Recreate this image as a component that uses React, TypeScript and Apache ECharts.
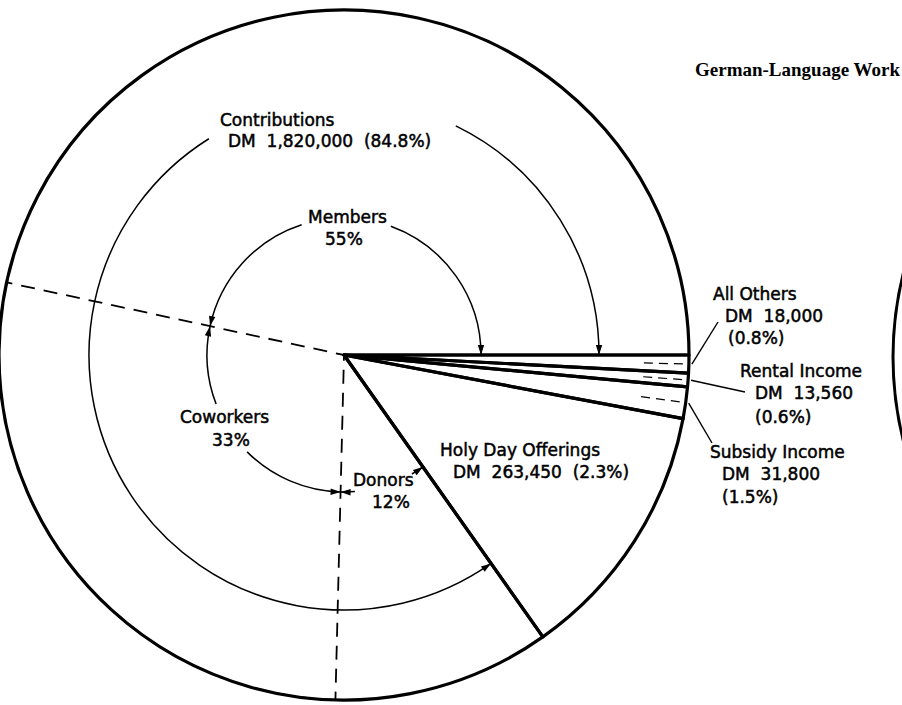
import React, { useEffect, useRef } from "react";
import * as echarts from "echarts";

// ---------------- data ----------------
const sliceNames = ["All Others", "Rental Income", "Subsidy Income", "Holy Day Offerings", "Contributions"];
const sliceValues = [18000, 13560, 31800, 263450, 1820000];
const slicePercentLabels = ["0.8%", "0.6%", "1.5%", "2.3%", "84.8%"];
const contributorNames = ["Donors", "Coworkers", "Members"];
const contributorShares = [12, 33, 55];
const chartTitle = "German-Language Work";

// ---------------- layout ----------------
const CX = 344;
const CY = 355;
const R = 345;
const FONT = '17px "DejaVu Sans", sans-serif';
const OUTER_ARC_R = 255;
const INNER_ARC_R = 137;

const fmt = (v: number) => String(v).replace(/\B(?=(\d{3})+(?!\d))/g, ",");
const rad = (d: number) => (d * Math.PI) / 180;
const pt = (r: number, deg: number): [number, number] => [CX + r * Math.cos(rad(deg)), CY + r * Math.sin(rad(deg))];

// slice angle bounds (degrees, clockwise from 3 o'clock)
const total = sliceValues.reduce((a, b) => a + b, 0);
const sliceBounds: [number, number][] = [];
{
  let acc = 0;
  sliceValues.forEach((v) => {
    const a0 = (acc / total) * 360;
    acc += v;
    sliceBounds.push([a0, (acc / total) * 360]);
  });
}
const CI = sliceNames.indexOf("Contributions");
const [cStart, cEnd] = sliceBounds[CI];
const subBounds: [number, number][] = [];
{
  let a = cStart;
  contributorShares.forEach((s) => {
    const span = ((cEnd - cStart) * s) / 100;
    subBounds.push([a, a + span]);
    a += span;
  });
}
const restValue = sliceValues.filter((_, i) => i !== CI).reduce((a, b) => a + b, 0);

// ---------------- graphic helpers ----------------
const arcEl = (r: number, a0: number, a1: number, lw = 1.5) => ({
  type: "arc",
  z: 100,
  silent: true,
  shape: { cx: CX, cy: CY, r, startAngle: rad(a0), endAngle: rad(a1), clockwise: true },
  style: { stroke: "#000", lineWidth: lw, fill: null },
});
const arrowEl = (r: number, deg: number, dir: number) => {
  const [x, y] = pt(r, deg);
  const t = rad(deg);
  const dx = dir > 0 ? -Math.sin(t) : Math.sin(t);
  const dy = dir > 0 ? Math.cos(t) : -Math.cos(t);
  const L = 10;
  const W = 3.2;
  const bx = x - L * dx;
  const by = y - L * dy;
  return {
    type: "polygon",
    z: 101,
    silent: true,
    shape: { points: [[x, y], [bx - W * dy, by + W * dx], [bx + W * dy, by - W * dx]] },
    style: { fill: "#000" },
  };
};
const textEl = (text: string, x: number, y: number, font = FONT) => ({
  type: "text",
  z: 100,
  silent: true,
  x,
  y,
  style: {
    text,
    x: 0,
    y: 0,
    font,
    fill: "#000",
    stroke: "#000",
    lineWidth: 0.5,
    textAlign: "left",
    textVerticalAlign: "middle",
    align: "left",
    verticalAlign: "middle",
  },
});
const lineEl = (p1: [number, number], p2: [number, number], lw = 1.4, dash?: number[]) => ({
  type: "line",
  z: 100,
  silent: true,
  shape: { x1: p1[0], y1: p1[1], x2: p2[0], y2: p2[1] },
  style: { stroke: "#000", lineWidth: lw, lineDash: dash },
});

// label positions (left x, middle y) per slice line
const sliceLabelPos: [number, number][][] = [
  [[713, 294], [725, 316], [728, 338]],
  [[740, 371], [755, 393], [755, 417]],
  [[710, 452], [722, 474], [722, 497]],
  [[440, 450], [453, 472]],
  [[220, 120], [228, 141]],
];
const leaderTargets: [number, number][] = [[718, 322], [745, 392], [712, 443]];
const contributorLabelPos: [number, number][][] = [
  [[353, 480], [372, 502]],
  [[180, 417], [212, 440]],
  [[308, 217], [325, 239]],
];

function buildGraphics() {
  const g: any[] = [];
  sliceNames.forEach((name, i) => {
    const pos = sliceLabelPos[i];
    if (pos.length === 3) {
      g.push(textEl(name, pos[0][0], pos[0][1]));
      g.push(textEl(`DM  ${fmt(sliceValues[i])}`, pos[1][0], pos[1][1]));
      g.push(textEl(`(${slicePercentLabels[i]})`, pos[2][0], pos[2][1]));
    } else {
      g.push(textEl(name, pos[0][0], pos[0][1]));
      g.push(textEl(`DM  ${fmt(sliceValues[i])}  (${slicePercentLabels[i]})`, pos[1][0], pos[1][1]));
    }
  });
  [0, 1, 2].forEach((i) => {
    const mid = (sliceBounds[i][0] + sliceBounds[i][1]) / 2;
    g.push(lineEl(pt(300, mid), pt(R - 2, mid), 1.2, [9, 6]));
    g.push(lineEl(pt(R + 3, mid), leaderTargets[i], 1.4));
  });
  contributorNames.forEach((name, i) => {
    const pos = contributorLabelPos[i];
    g.push(textEl(name, pos[0][0], pos[0][1]));
    g.push(textEl(`${contributorShares[i]}%`, pos[1][0], pos[1][1]));
  });
  g.push(arcEl(OUTER_ARC_R, cStart, 238));
  g.push(arcEl(OUTER_ARC_R, 296, cEnd));
  g.push(arrowEl(OUTER_ARC_R, cStart, -1));
  g.push(arrowEl(OUTER_ARC_R, cEnd, 1));
  const [dS, dE] = subBounds[0];
  const [wS, wE] = subBounds[1];
  const [mS, mE] = subBounds[2];
  g.push(arcEl(INNER_ARC_R, dS, dS + 5.5));
  g.push(arcEl(INNER_ARC_R, dE - 6, dE));
  g.push(arrowEl(INNER_ARC_R, dS, -1));
  g.push(arrowEl(INNER_ARC_R, dE, 1));
  g.push(arcEl(INNER_ARC_R, wS, 135));
  g.push(arcEl(INNER_ARC_R, 159, wE));
  g.push(arrowEl(INNER_ARC_R, wS, -1));
  g.push(arrowEl(INNER_ARC_R, wE, 1));
  g.push(arcEl(INNER_ARC_R, mS, 252));
  g.push(arcEl(INNER_ARC_R, 290, mE));
  g.push(arrowEl(INNER_ARC_R, mS, -1));
  g.push(arrowEl(INNER_ARC_R, mE, 1));
  g.push({
    type: "circle",
    z: 100,
    silent: true,
    shape: { cx: 893 + R, cy: 357, r: R },
    style: { stroke: "#000", lineWidth: 3, fill: null },
  });
  return g;
}

function buildOption() {
  return {
    animation: false,
    backgroundColor: "#fff",
    title: {
      text: chartTitle,
      left: 690,
      top: 55,
      textStyle: { fontFamily: '"Liberation Serif", serif', fontWeight: "bold", fontSize: 19, color: "#000" },
    },
    series: [
      {
        type: "pie",
        silent: true,
        startAngle: 0,
        clockwise: true,
        center: [CX, CY],
        radius: [0, R],
        avoidLabelOverlap: false,
        label: { show: false },
        labelLine: { show: false },
        emphasis: { disabled: true },
        itemStyle: { color: "rgba(255,255,255,0)", borderColor: "#000", borderWidth: 3.2 },
        data: sliceNames.map((n, i) => ({ name: n, value: sliceValues[i] })),
        z: 2,
      },
      {
        type: "pie",
        silent: true,
        startAngle: 0,
        clockwise: true,
        center: [CX, CY],
        radius: [0, R],
        avoidLabelOverlap: false,
        label: { show: false },
        labelLine: { show: false },
        emphasis: { disabled: true },
        itemStyle: { color: "rgba(255,255,255,0)", borderWidth: 0 },
        data: [
          { name: "rest", value: restValue },
          ...contributorNames.map((n, i) => ({
            name: n,
            value: (sliceValues[CI] * contributorShares[i]) / 100,
            itemStyle:
              n === "Coworkers"
                ? { color: "rgba(255,255,255,0)", borderColor: "#000", borderWidth: 1.8, borderType: [14, 9] }
                : { color: "rgba(255,255,255,0)", borderWidth: 0 },
          })),
        ],
        z: 3,
      },
    ],
    graphic: { elements: buildGraphics() },
  };
}

export default function App() {
  const ref = useRef<HTMLDivElement>(null);
  useEffect(() => {
    if (!ref.current) return;
    const chart = echarts.init(ref.current, null, { renderer: "svg" });
    chart.setOption(buildOption() as any);
    return () => chart.dispose();
  }, []);
  return (
    <div
      ref={ref}
      style={{ position: "fixed", left: 0, top: 0, width: 902, height: 705, background: "#fff" }}
    />
  );
}
